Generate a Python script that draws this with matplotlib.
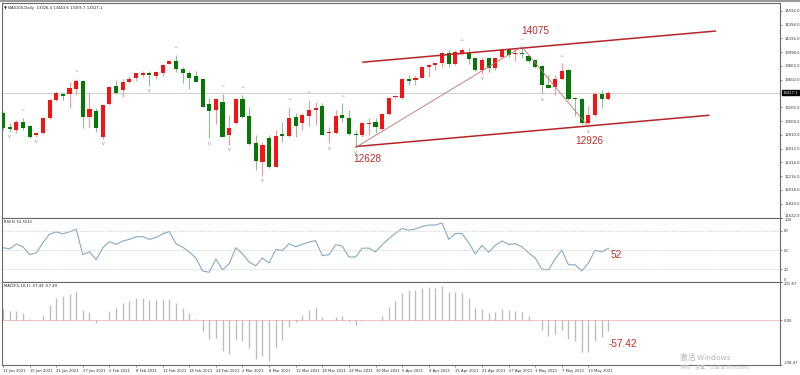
import matplotlib
matplotlib.use("Agg")
import matplotlib.pyplot as plt
import matplotlib.transforms as mtransforms
import numpy as np

title_text = "\u25bc NAS100,Daily  13326.4 13443.6 13305.7 13417.1"

opens = [13120, 12924, 12880, 12995, 12938, 12809, 12837, 13053, 13311, 13401,
         13397, 13469, 13584, 13067, 13153, 12780, 13254, 13512, 13454, 13569,
         13627, 13674, 13703, 13655, 13703, 13828, 13871, 13760, 13703, 13655,
         13612, 13249, 13167, 13287, 12813, 12985, 13325, 13081, 12690, 12426,
         12766, 12354, 12819, 12799, 13071, 12977, 13086, 13167, 13225, 12833,
         12833, 13096, 13057, 12823, 12809, 12962, 12995, 12891, 13106, 13350,
         13344, 13612, 13594, 13631, 13789, 13813, 13838, 13981, 13828, 13981,
         13990, 13909, 13741, 13909, 13766, 13932, 14028, 13971, 13981, 13942,
         13885, 13799, 13526, 13493, 13612, 13741, 13335, 13330, 12985, 13096,
         13393, 13326.4]
highs = [13153, 12981, 13024, 13053, 12952, 12852, 13067, 13330, 13444, 13416,
         13569, 13612, 13590, 13411, 13196, 13254, 13512, 13598, 13612, 13655,
         13703, 13731, 13727, 13731, 13820, 13885, 13957, 13789, 13731, 13731,
         13622, 13335, 13330, 13397, 13096, 13335, 13383, 13206, 12809, 12713,
         12809, 12880, 13000, 13215, 13120, 13120, 13311, 13287, 13272, 12928,
         13167, 13264, 13167, 12880, 12985, 13048, 13048, 13120, 13358, 13383,
         13622, 13670, 13670, 13799, 13823, 13846, 14004, 14028, 14028, 14061,
         14053, 13932, 13932, 13932, 13932, 14053, 14053, 14028, 14075, 13957,
         13895, 13813, 13670, 13670, 13838, 13752, 13358, 13344, 13225, 13430,
         13454, 13443.6]
lows = [12880, 12852, 12837, 12880, 12766, 12780, 12823, 13038, 13301, 13311,
        13196, 13383, 12909, 12924, 12852, 12751, 13239, 13397, 13354, 13555,
        13584, 13641, 13512, 13617, 13655, 13823, 13717, 13551, 13469, 13565,
        13211, 12761, 12967, 12776, 12665, 12967, 13048, 12670, 12306, 12220,
        12335, 12345, 12713, 12784, 12784, 12880, 12942, 12952, 12800, 12690,
        12823, 13000, 12809, 12628, 12784, 12809, 12833, 12880, 13096, 13335,
        13321, 13526, 13526, 13622, 13645, 13741, 13780, 13780, 13813, 13957,
        13828, 13731, 13684, 13717, 13741, 13909, 13932, 13871, 13909, 13838,
        13766, 13395, 13479, 13383, 13598, 13311, 13081, 12967, 12926, 13081,
        13192, 13305.7]
closes = [12913, 12895, 12995, 12909, 12780, 12837, 13053, 13311, 13416, 13368,
          13483, 13584, 13067, 13182, 12909, 13239, 13502, 13416, 13569, 13617,
          13694, 13703, 13665, 13717, 13813, 13875, 13760, 13694, 13627, 13574,
          13215, 13157, 13325, 12784, 12905, 13325, 13063, 12680, 12440, 12665,
          12354, 12799, 12794, 13048, 12942, 13096, 13167, 13192, 12809, 12856,
          13081, 13048, 12819, 12809, 12977, 12985, 12928, 13106, 13344, 13373,
          13612, 13588, 13631, 13789, 13813, 13838, 13981, 13828, 14004, 14028,
          13895, 13741, 13885, 13766, 13909, 14028, 13957, 13990, 13967, 13871,
          13789, 13526, 13488, 13612, 13727, 13321, 13321, 12977, 13096, 13397,
          13321, 13417.1]

rsi = [53.5, 51.9, 59.3, 55.0, 42.8, 45.5, 61.4, 74.7, 78.4, 75.2,
       78.4, 82.7, 42.8, 47.1, 34.9, 53.5, 63.0, 58.8, 64.1, 66.7,
       70.4, 71.0, 66.7, 69.4, 75.2, 79.0, 59.8, 54.5, 47.1, 37.5,
       17.3, 15.2, 35.9, 18.9, 28.5, 53.5, 43.9, 31.1, 25.3, 37.5,
       29.6, 50.8, 49.2, 59.8, 55.0, 58.8, 62.5, 64.6, 41.2, 42.8,
       58.2, 56.1, 39.1, 39.1, 52.9, 52.9, 47.1, 58.2, 67.8, 76.3,
       83.7, 81.1, 82.7, 86.9, 89.0, 89.0, 92.2, 66.7, 75.8, 75.8,
       61.4, 43.9, 57.2, 46.5, 57.2, 64.1, 58.8, 59.8, 55.0, 45.5,
       37.5, 20.0, 18.9, 35.9, 49.7, 26.9, 26.9, 17.3, 29.6, 49.7,
       47.1, 52.55]

macd = [56.5, 47.7, 47.7, 35.3, 7.0, 1.5, 24.7, 77.7, 118.4, 127.2,
        136.0, 152.0, 53.0, 42.4, -14.0, -2.0, 47.7, 63.6, 88.3, 100.7,
        114.8, 118.4, 104.2, 104.2, 109.5, 113.0, 91.9, 65.4, 38.9, 3.0,
        -58.3, -99.0, -93.6, -164.0, -178.5, -106.0, -111.3, -150.0, -205.0, -190.8,
        -217.3, -150.0, -106.0, -35.3, -10.6, 24.7, 53.0, 70.7, 17.7, 2.0,
        17.7, 21.2, -10.6, -28.3, -5.3, -2.0, 2.0, 21.2, 70.7, 100.7,
        141.0, 159.0, 159.0, 171.0, 177.0, 171.0, 180.0, 150.0, 148.0, 145.0,
        115.0, 65.0, 60.0, 35.0, 42.0, 56.5, 53.0, 47.7, 42.4, 21.2,
        2.0, -53.0, -84.8, -76.0, -53.0, -99.0, -111.0, -170.0, -170.0, -111.0,
        -88.0, -57.42]

date_labels = ["11 Jan 2021", "15 Jan 2021", "21 Jan 2021", "27 Jan 2021", "2 Feb 2021",
               "8 Feb 2021", "12 Feb 2021", "18 Feb 2021", "24 Feb 2021", "2 Mar 2021",
               "8 Mar 2021", "12 Mar 2021", "18 Mar 2021", "24 Mar 2021", "30 Mar 2021",
               "5 Apr 2021", "9 Apr 2021", "15 Apr 2021", "21 Apr 2021", "27 Apr 2021",
               "3 May 2021", "7 May 2021", "13 May 2021"]
date_bar_index = [0, 4, 8, 12, 16, 20, 24, 28, 32, 36, 40, 44, 48, 52, 56,
                  60, 64, 68, 72, 76, 80, 84, 88]

price_ticks = [11622.0, 11820.0, 12018.0, 12216.0, 12414.0, 12612.0, 12810.0, 13008.0,
               13206.0, 13602.0, 13800.0, 13998.0, 14196.0, 14394.0, 14592.0]
rsi_ticks = [0, 20, 50, 80, 100]
rsi_levels = [20, 50, 80]
macd_ticks = [-238.47, 0.0, 201.87]

zigzag_idx = [53, 78, 88]
zigzag_price = [12628, 14075, 12926]
zigzag_labels = ["12628", "14075", "12926"]
upper_channel_idx = [54.0, 107.2]
upper_channel_price = [13852, 14301]
lower_channel_idx = [53.0, 106.2]
lower_channel_price = [12641, 13091]

up_fractals = [3, 11, 26, 33, 36, 43, 46, 51, 69, 78, 84]
down_fractals = [1, 5, 15, 22, 31, 34, 39, 49, 53, 72, 81, 88]

rsi_label = "RSI(5) 52.5541"
macd_label = "MACD(5,10,1) -57.49 -57.49"

# ---------------------------------------------------------------
W, H = 800, 375
fig = plt.figure(figsize=(W / 100, H / 100), dpi=100)
fig.patch.set_facecolor("white")

def ax_rect(x0, y0, x1, y1):
    return [x0 / W, 1 - y1 / H, (x1 - x0) / W, (y1 - y0) / H]

ax = fig.add_axes(ax_rect(2, 3, 780, 218))
ax_r = fig.add_axes(ax_rect(2, 218, 780, 282))
ax_m = fig.add_axes(ax_rect(2, 282, 780, 365))

n = len(closes)
x = np.arange(n)
XLIM = (-0.15, 116.8)

UP = "#f41414"
DOWN = "#067806"
UP_W = "#f59a9a"
DOWN_W = "#8cc08c"
ANN = "#c42b2b"
TXT = dict(family="DejaVu Sans", fontsize=2.7, color="#202020")

for a in (ax, ax_r, ax_m):
    a.set_xlim(*XLIM)
    for s in a.spines.values():
        s.set_color("#6a6a6a")
        s.set_linewidth(0.8)
    a.yaxis.tick_right()
    a.tick_params(axis="y", length=1.5, width=0.4, pad=1.5, labelsize=2.7,
                  colors="#303030")
    a.tick_params(axis="x", length=0, labelbottom=False)
    a.set_facecolor("white")

# main candles
o = np.array(opens); c = np.array(closes)
hi = np.array(highs); lo = np.array(lows)
up = c >= o
ax.vlines(x[up], lo[up], hi[up], color=UP_W, lw=0.8, zorder=2)
ax.vlines(x[~up], lo[~up], hi[~up], color=DOWN_W, lw=0.8, zorder=2)
body = np.abs(c - o)
body = np.maximum(body, 12)
bottom = np.minimum(o, c)
ax.bar(x[up], body[up], bottom=bottom[up], width=0.62, color=UP, lw=0, zorder=3)
ax.bar(x[~up], body[~up], bottom=bottom[~up], width=0.62, color=DOWN, lw=0, zorder=3)

ax.set_ylim(11615, 14703)
ax.set_yticks(price_ticks)
ax.set_yticklabels([f"{v:.1f}" for v in price_ticks])
ax.get_yticklabels()[0].set_va("bottom")
ax.axhline(closes[-1], color="#cfcfcf", lw=0.7, zorder=1)
blend = mtransforms.blended_transform_factory(ax.transAxes, ax.transData)
ax.text(1.0035, closes[-1], f"{closes[-1]:.1f}", transform=blend, va="center",
        ha="left", family="DejaVu Sans", fontsize=2.7, color="white",
        bbox=dict(boxstyle="square,pad=0.25", fc="black", ec="black"), clip_on=False)

# fractals
for i in up_fractals:
    ax.annotate("^", (i, highs[i]), xytext=(0, 3.5), textcoords="offset pixels",
                ha="center", va="bottom", fontsize=3.5, color="#8a8a8a",
                family="DejaVu Sans")
for i in down_fractals:
    ax.annotate("v", (i, lows[i]), xytext=(0, -2.5), textcoords="offset pixels",
                ha="center", va="top", fontsize=3.3, color="#8a8a8a",
                family="DejaVu Sans")

# trend lines
ax.plot(upper_channel_idx, upper_channel_price, color="#b52626", lw=1.1, zorder=4,
        solid_capstyle="butt")
ax.plot(lower_channel_idx, lower_channel_price, color="#b52626", lw=1.1, zorder=4,
        solid_capstyle="butt")
ax.plot(zigzag_idx, zigzag_price, color="#c07070", lw=0.6, zorder=4)

offsets = [(11.5, -11.5), (13, 16), (1, -14)]
for xi, pv, lab, off in zip(zigzag_idx, zigzag_price, zigzag_labels, offsets):
    ax.annotate(lab, (xi, pv), xytext=off, textcoords="offset pixels",
                ha="center", va="center", fontsize=7.2, color=ANN,
                family="Liberation Sans")

ax.text(0.003, 0.985, title_text, transform=ax.transAxes, ha="left", va="top",
        **TXT)

# RSI panel
ax_r.set_ylim(0, 100)
ax_r.plot(x, rsi, color="#86aac2", lw=0.8)
for lv in rsi_levels:
    ax_r.axhline(lv, color="#c4c4c4", lw=0.5, ls=(0, (2, 2)))
ax_r.set_yticks(rsi_ticks)
ax_r.set_yticklabels([str(v) for v in rsi_ticks])
rl = ax_r.get_yticklabels()
rl[0].set_va("bottom")
rl[-1].set_va("top")
ax_r.text(0.003, 0.97, rsi_label, transform=ax_r.transAxes, ha="left", va="top", **TXT)
ax_r.annotate(f"{int(rsi[-1])}", (x[-1], rsi[-1]), xytext=(2, -7),
              textcoords="offset pixels", ha="left", va="center", fontsize=7.2,
              color=ANN, family="Liberation Sans")

# MACD panel
ax_m.set_ylim(macd_ticks[0], macd_ticks[-1])
ax_m.vlines(x, 0, macd, color="#bdbdbd", lw=1.0)
ax_m.axhline(0, color="#e07070", lw=0.6, ls=(0, (1.2, 1.2)))
ax_m.set_yticks(macd_ticks)
ax_m.set_yticklabels([f"{v:.2f}" for v in macd_ticks])
ml = ax_m.get_yticklabels()
ml[0].set_va("bottom")
ml[-1].set_va("top")
ax_m.text(0.003, 0.97, macd_label, transform=ax_m.transAxes, ha="left", va="top", **TXT)
ax_m.annotate(f"{macd[-1]:.2f}", (x[-1], macd[-1]), xytext=(0, -13),
              textcoords="offset pixels", ha="left", va="center", fontsize=7.2,
              color=ANN, family="Liberation Sans")

ax_m.set_xticks(date_bar_index)
ax_m.set_xticklabels(date_labels, ha="left")
ax_m.tick_params(axis="x", length=1.5, width=0.4, pad=1.5, labelsize=2.7,
                 labelbottom=True, colors="#303030")

# watermark
fig.text(680 / W, 1 - 357.5 / H, "激活 Windows", ha="left", va="center",
         fontsize=5.6, color="#b4b4b4", family=["Noto Sans CJK SC", "DejaVu Sans"])
fig.text(680 / W, 1 - 367 / H, "转到\u201c设置\u201d以激活 Windows。", ha="left",
         va="center", fontsize=3.6, color="#c0c0c0",
         family=["Noto Sans CJK SC", "DejaVu Sans"])

# top frame strip
fig.add_artist(plt.Line2D([0, 1], [1 - 1 / H, 1 - 1 / H], transform=fig.transFigure,
                          color="#9a9a9a", lw=1.5))

fig.savefig("out.png", dpi=100, facecolor="white")
